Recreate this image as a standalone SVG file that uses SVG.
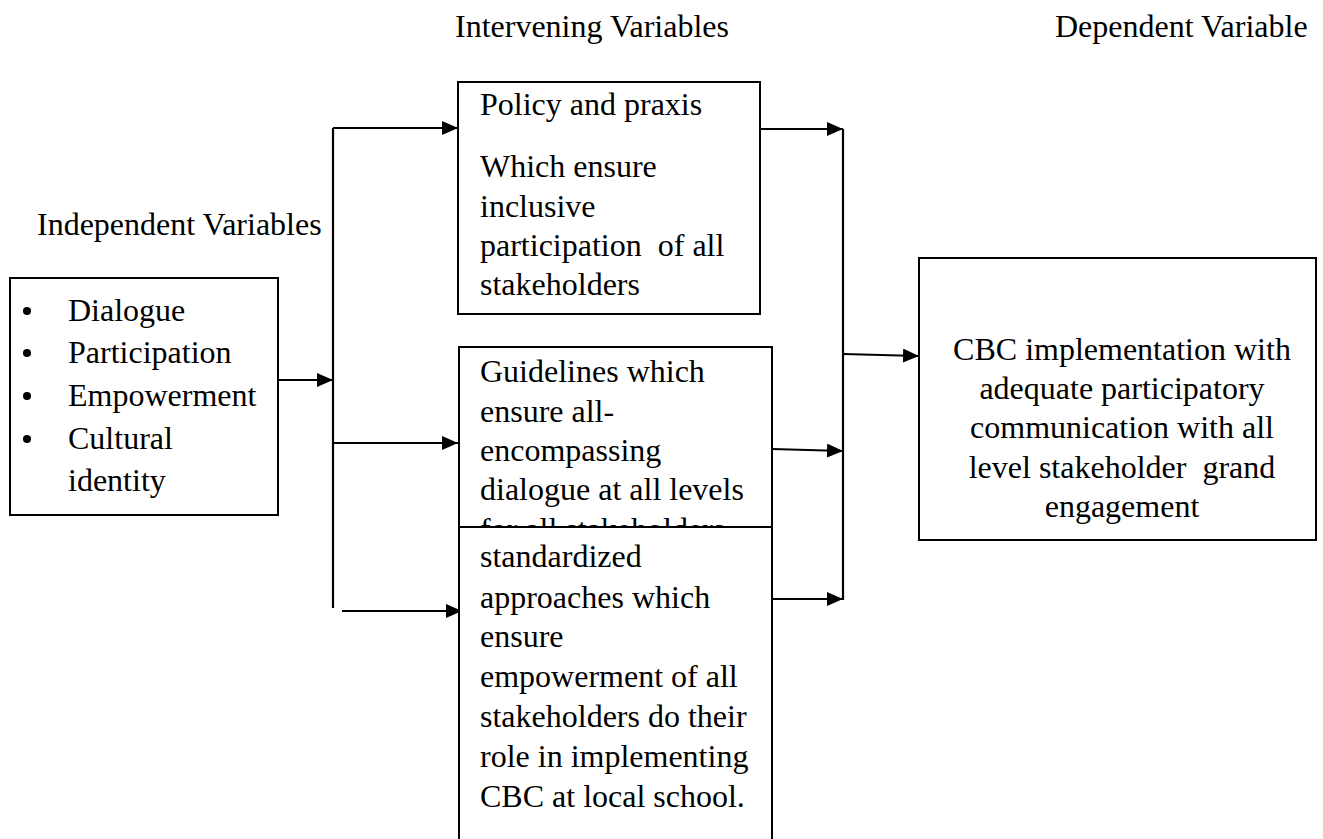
<svg xmlns="http://www.w3.org/2000/svg" width="1323" height="839" viewBox="0 0 1323 839">
<style>
text{font-family:"Liberation Serif","Times New Roman",serif;font-size:32px;fill:#000}
.box{fill:#fff;stroke:#000;stroke-width:2}
.ln{fill:none;stroke:#000;stroke-width:2.2}
.c{text-anchor:middle}
.pre{white-space:pre}
</style>
<defs>
<marker id="ah" markerUnits="userSpaceOnUse" markerWidth="16" markerHeight="14" refX="16" refY="7" orient="auto">
<path d="M0,0 L16,7 L0,14 z" fill="#000"/>
</marker>
<clipPath id="gclip"><rect x="459" y="347" width="313" height="180"/></clipPath>
</defs>
<rect width="1323" height="839" fill="#fff"/>
<g id="headers">
<text x="455" y="37">Intervening Variables</text>
<text x="1055" y="37">Dependent Variable</text>
<text x="37" y="235">Independent Variables</text>
</g>
<g id="connectors">
<path class="ln" d="M278,380 H333" marker-end="url(#ah)"/>
<path class="ln" d="M333,128 V608"/>
<path class="ln" d="M333,128 H458" marker-end="url(#ah)"/>
<path class="ln" d="M333,443 H458" marker-end="url(#ah)"/>
<path class="ln" d="M342,611 H462" marker-end="url(#ah)"/>
<path class="ln" d="M760,129 H843" marker-end="url(#ah)"/>
<path class="ln" d="M772,449 L843,451" marker-end="url(#ah)"/>
<path class="ln" d="M772,599 H843" marker-end="url(#ah)"/>
<path class="ln" d="M843,129 V600"/>
<path class="ln" d="M843,354 L919,356" marker-end="url(#ah)"/>
</g>
<g id="independent">
<rect class="box" x="10" y="278" width="268" height="237"/>
<circle cx="27" cy="311" r="4"/>
<circle cx="27" cy="353" r="4"/>
<circle cx="27" cy="396" r="4"/>
<circle cx="27" cy="439" r="4"/>
<text x="68" y="321">Dialogue</text>
<text x="68" y="363">Participation</text>
<text x="68" y="406">Empowerment</text>
<text x="68" y="449">Cultural</text>
<text x="68" y="491">identity</text>
</g>
<g id="policy">
<rect class="box" x="458" y="82" width="302" height="232"/>
<text x="480" y="115">Policy and praxis</text>
<text x="480" y="177">Which ensure</text>
<text x="480" y="217">inclusive</text>
<text class="pre" x="480" y="256" xml:space="preserve">participation  of all</text>
<text x="480" y="295">stakeholders</text>
</g>
<g id="guidelines">
<rect class="box" x="459" y="347" width="313" height="200"/>
<g clip-path="url(#gclip)">
<text x="480" y="382">Guidelines which</text>
<text x="480" y="422">ensure all-</text>
<text x="480" y="461">encompassing</text>
<text x="480" y="500">dialogue at all levels</text>
<text x="480" y="540">for all stakeholders</text>
</g>
</g>
<g id="standardized">
<rect class="box" x="459" y="527" width="313" height="330"/>
<text x="480" y="567">standardized</text>
<text x="480" y="608">approaches which</text>
<text x="480" y="647">ensure</text>
<text x="480" y="687">empowerment of all</text>
<text x="480" y="727">stakeholders do their</text>
<text x="480" y="767">role in implementing</text>
<text x="480" y="807">CBC at local school.</text>
</g>
<g id="dependent">
<rect class="box" x="919" y="258" width="397" height="282"/>
<text class="c" x="1122" y="360">CBC implementation with</text>
<text class="c" x="1122" y="399">adequate participatory</text>
<text class="c" x="1122" y="438">communication with all</text>
<text class="c pre" x="1122" y="478" xml:space="preserve">level stakeholder  grand</text>
<text class="c" x="1122" y="517">engagement</text>
</g>
</svg>
